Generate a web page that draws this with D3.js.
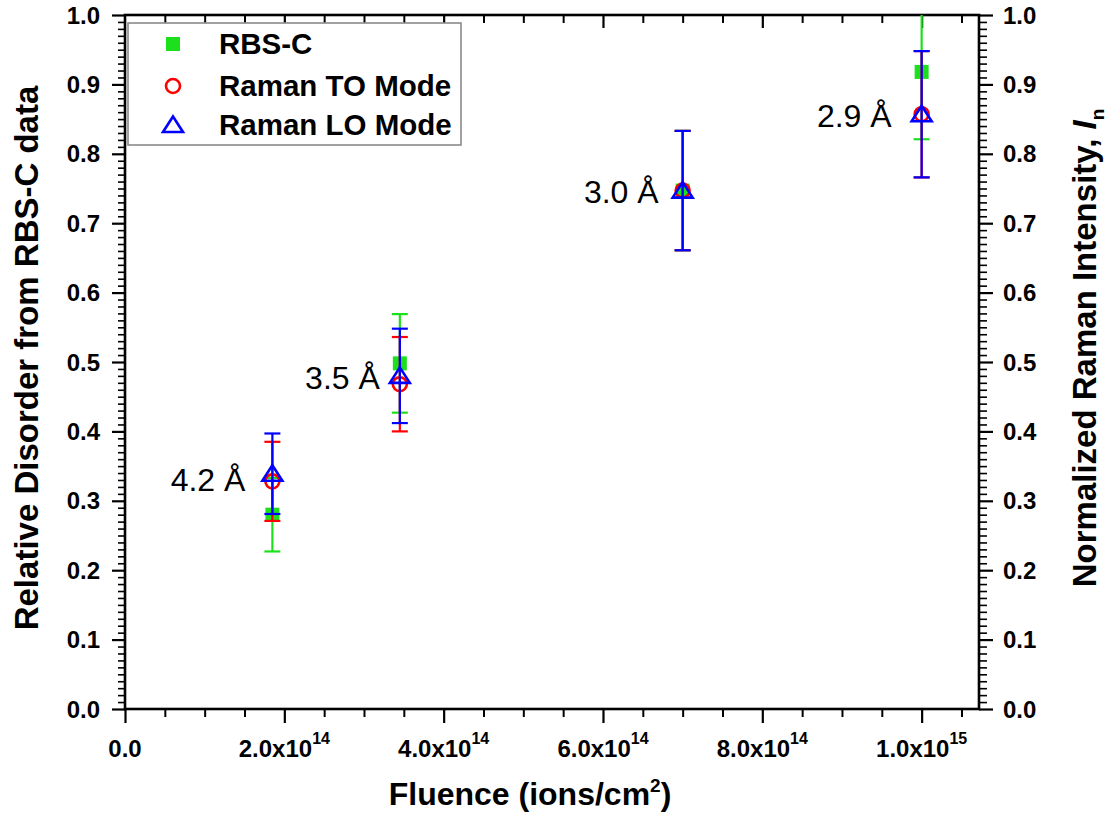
<!DOCTYPE html>
<html>
<head>
<meta charset="utf-8">
<script src="https://cdn.jsdelivr.net/npm/d3@7"></script>
<style>
  html, body { margin: 0; padding: 0; background: #fff; }
  svg { display: block; font-family: "Liberation Sans", Arial, sans-serif; }
</style>
</head>
<body>
<svg id="chart" width="1110" height="817"></svg>
<script>
// Fluence of each irradiation (ions/cm^2)
const fluence = [1.85e14, 3.45e14, 7.0e14, 1.0e15];
// Relative disorder from RBS-C data
const rbsDisorder = [0.28, 0.498, 0.747, 0.918];
const rbsError = [0.053, 0.071, 0.086, 0.097];
// Normalized Raman intensity, TO mode
const ramanTO = [0.328, 0.468, 0.747, 0.857];
const ramanTOError = [0.057, 0.068, 0.086, 0.091];
// Normalized Raman intensity, LO mode
const ramanLO = [0.339, 0.48, 0.747, 0.857];
const ramanLOError = [0.058, 0.068, 0.086, 0.091];
// Annotations next to each point
const spacingLabels = ["4.2 Å", "3.5 Å", "3.0 Å", "2.9 Å"];
// Axis ticks
const xMajorTicks = [0, 2e14, 4e14, 6e14, 8e14, 1e15];
const yMajorTicks = [0, 0.1, 0.2, 0.3, 0.4, 0.5, 0.6, 0.7, 0.8, 0.9, 1.0];
const legendLabels = ["RBS-C", "Raman TO Mode", "Raman LO Mode"];

const svg = d3.select("#chart");
const plotL = 125, plotR = 979, plotT = 15, plotB = 709;

const x = d3.scaleLinear().domain([0, 1.072e15]).range([plotL, plotR]);
const y = d3.scaleLinear().domain([0, 1]).range([plotB, plotT]);

const GREEN = "#1de01d", RED = "#ff0000", BLUE = "#0000ff";

svg.append("rect").attr("width", 1110).attr("height", 817).attr("fill", "#fff");

// clip for error bars running past the frame
svg.append("defs").append("clipPath").attr("id", "plotClip")
  .append("rect").attr("x", plotL).attr("y", plotT)
  .attr("width", plotR - plotL).attr("height", plotB - plotT);

// ---- axes ----
const xMinor = d3.range(0, 1.07e15, 0.5e14).filter(v => !xMajorTicks.some(m => Math.abs(m - v) < 1e10));
const yMinor = d3.range(0, 1.0001, 0.01).filter(v => Math.abs(v * 10 - Math.round(v * 10)) > 1e-6);

function styleAxis(g, w) {
  g.select(".domain").remove();
  g.selectAll("line").attr("stroke", "#000").attr("stroke-width", w);
  g.selectAll("text").remove();
}

// bottom axis: ticks outward
svg.append("g").attr("transform", `translate(0,${plotB})`)
  .call(d3.axisBottom(x).tickValues(xMajorTicks).tickSize(14).tickFormat(""))
  .call(g => styleAxis(g, 2.2));
svg.append("g").attr("transform", `translate(0,${plotB})`)
  .call(d3.axisBottom(x).tickValues(xMinor).tickSize(8).tickFormat(""))
  .call(g => styleAxis(g, 2));
// top axis: ticks pointing into the plot
svg.append("g").attr("transform", `translate(0,${plotT})`)
  .call(d3.axisBottom(x).tickValues(xMajorTicks.filter(v => v > 0)).tickSize(13).tickFormat(""))
  .call(g => styleAxis(g, 2.2));
svg.append("g").attr("transform", `translate(0,${plotT})`)
  .call(d3.axisBottom(x).tickValues(xMinor).tickSize(8).tickFormat(""))
  .call(g => styleAxis(g, 2));
// left axis
svg.append("g").attr("transform", `translate(${plotL},0)`)
  .call(d3.axisLeft(y).tickValues(yMajorTicks).tickSize(13).tickFormat(""))
  .call(g => styleAxis(g, 2.2));
svg.append("g").attr("transform", `translate(${plotL},0)`)
  .call(d3.axisLeft(y).tickValues(yMinor).tickSize(7).tickFormat(""))
  .call(g => styleAxis(g, 1.6));
// right axis
svg.append("g").attr("transform", `translate(${plotR},0)`)
  .call(d3.axisRight(y).tickValues(yMajorTicks).tickSize(14).tickFormat(""))
  .call(g => styleAxis(g, 2.2));
svg.append("g").attr("transform", `translate(${plotR},0)`)
  .call(d3.axisRight(y).tickValues(yMinor).tickSize(8).tickFormat(""))
  .call(g => styleAxis(g, 1.6));

// frame
svg.append("rect").attr("x", plotL).attr("y", plotT)
  .attr("width", plotR - plotL).attr("height", plotB - plotT)
  .attr("fill", "none").attr("stroke", "#000").attr("stroke-width", 2.6);

// y tick labels, both sides
const yFmt = d3.format(".1f");
svg.append("g").selectAll("text").data(yMajorTicks).join("text")
  .attr("x", plotL - 25).attr("y", d => y(d)).attr("dy", "0.36em")
  .attr("text-anchor", "end").attr("font-size", 24).attr("font-weight", "bold")
  .text(yFmt);
svg.append("g").selectAll("text").data(yMajorTicks).join("text")
  .attr("x", plotR + 24).attr("y", d => y(d)).attr("dy", "0.36em")
  .attr("text-anchor", "start").attr("font-size", 24).attr("font-weight", "bold")
  .text(yFmt);

// x tick labels in a.bx10^n form
const xLab = svg.append("g").selectAll("text").data(xMajorTicks).join("text")
  .attr("x", d => x(d)).attr("y", 757)
  .attr("text-anchor", "middle").attr("font-size", 24).attr("font-weight", "bold");
xLab.each(function (d) {
  const t = d3.select(this);
  if (d === 0) { t.text("0.0"); return; }
  const e = Math.floor(Math.log10(d));
  const m = (d / Math.pow(10, e)).toFixed(1);
  t.append("tspan").text(m + "x10");
  t.append("tspan").attr("font-size", 16).attr("dy", -13).text(e);
});

// axis titles
const xTitle = svg.append("text").attr("x", 530).attr("y", 805)
  .attr("text-anchor", "middle").attr("font-size", 32).attr("font-weight", "bold");
xTitle.append("tspan").text("Fluence (ions/cm");
xTitle.append("tspan").attr("font-size", 19).attr("dy", -13).text("2");
xTitle.append("tspan").attr("dy", 13).text(")");

svg.append("text")
  .attr("transform", `translate(38,${(plotT + plotB) / 2 - 4}) rotate(-90)`)
  .attr("text-anchor", "middle").attr("font-size", 33).attr("font-weight", "bold")
  .text("Relative Disorder from RBS-C data");

const rTitle = svg.append("text")
  .attr("transform", `translate(1096,${(plotT + plotB) / 2 - 14}) rotate(-90)`)
  .attr("text-anchor", "middle").attr("font-size", 33).attr("font-weight", "bold");
rTitle.append("tspan").text("Normalized Raman Intensity, ");
rTitle.append("tspan").attr("font-style", "italic").text("I");
rTitle.append("tspan").attr("font-size", 19).attr("dy", 8).text("n");

// ---- data ----
const trianglePath = "M0,-8.5L10,7L-10,7Z";

function drawSeries(values, errors, color, shape) {
  const g = svg.append("g");
  const pts = fluence.map((f, i) => ({ f, v: values[i], e: errors[i] }));
  const eb = g.append("g").attr("clip-path", "url(#plotClip)")
    .attr("stroke", color).attr("stroke-width", 2.2);
  eb.selectAll("line.v").data(pts).join("line").attr("class", "v")
    .attr("x1", d => x(d.f)).attr("x2", d => x(d.f))
    .attr("y1", d => y(d.v - d.e)).attr("y2", d => y(d.v + d.e));
  eb.selectAll("line.cl").data(pts).join("line").attr("class", "cl")
    .attr("x1", d => x(d.f) - 8).attr("x2", d => x(d.f) + 8)
    .attr("y1", d => y(d.v - d.e)).attr("y2", d => y(d.v - d.e));
  eb.selectAll("line.cu").data(pts).join("line").attr("class", "cu")
    .attr("x1", d => x(d.f) - 8).attr("x2", d => x(d.f) + 8)
    .attr("y1", d => y(d.v + d.e)).attr("y2", d => y(d.v + d.e));

  const mk = g.selectAll("g.mk").data(pts).join("g").attr("class", "mk")
    .attr("transform", d => `translate(${x(d.f)},${y(d.v)})`);
  if (shape === "square") {
    mk.append("rect").attr("x", -7).attr("y", -7).attr("width", 14).attr("height", 14)
      .attr("fill", color);
  } else if (shape === "circle") {
    mk.append("circle").attr("r", 7).attr("fill", "none")
      .attr("stroke", color).attr("stroke-width", 2.6);
  } else {
    mk.append("path").attr("d", trianglePath).attr("fill", "none")
      .attr("stroke", color).attr("stroke-width", 2.6).attr("stroke-linejoin", "miter");
  }
}

drawSeries(rbsDisorder, rbsError, GREEN, "square");
drawSeries(ramanTO, ramanTOError, RED, "circle");
drawSeries(ramanLO, ramanLOError, BLUE, "triangle");

// interatomic spacing notes, placed left of each point
const noteShift = [[-27, 17], [-20, 13], [-24, 12], [-30, 13]];
svg.append("g").selectAll("text").data(spacingLabels).join("text")
  .attr("x", (d, i) => x(fluence[i]) + noteShift[i][0])
  .attr("y", (d, i) => y(ramanLO[i]) + noteShift[i][1])
  .attr("text-anchor", "end").attr("font-size", 32)
  .text(d => d);

// ---- legend ----
const lg = svg.append("g");
lg.append("rect").attr("x", 128).attr("y", 23).attr("width", 333).attr("height", 122)
  .attr("fill", "#fff").attr("stroke", "#8a8a8a").attr("stroke-width", 1.6);
const rowY = [44, 86, 125];
lg.append("rect").attr("x", 173 - 7).attr("y", rowY[0] - 7).attr("width", 14).attr("height", 14)
  .attr("fill", GREEN);
lg.append("circle").attr("cx", 173).attr("cy", rowY[1]).attr("r", 7)
  .attr("fill", "none").attr("stroke", RED).attr("stroke-width", 2.6);
lg.append("path").attr("transform", `translate(173,${rowY[2]})`).attr("d", trianglePath)
  .attr("fill", "none").attr("stroke", BLUE).attr("stroke-width", 2.6);
lg.selectAll("text").data(legendLabels).join("text")
  .attr("x", 219).attr("y", (d, i) => rowY[i] + 10)
  .attr("font-size", 29.5).attr("font-weight", "bold")
  .text(d => d);
</script>
</body>
</html>
